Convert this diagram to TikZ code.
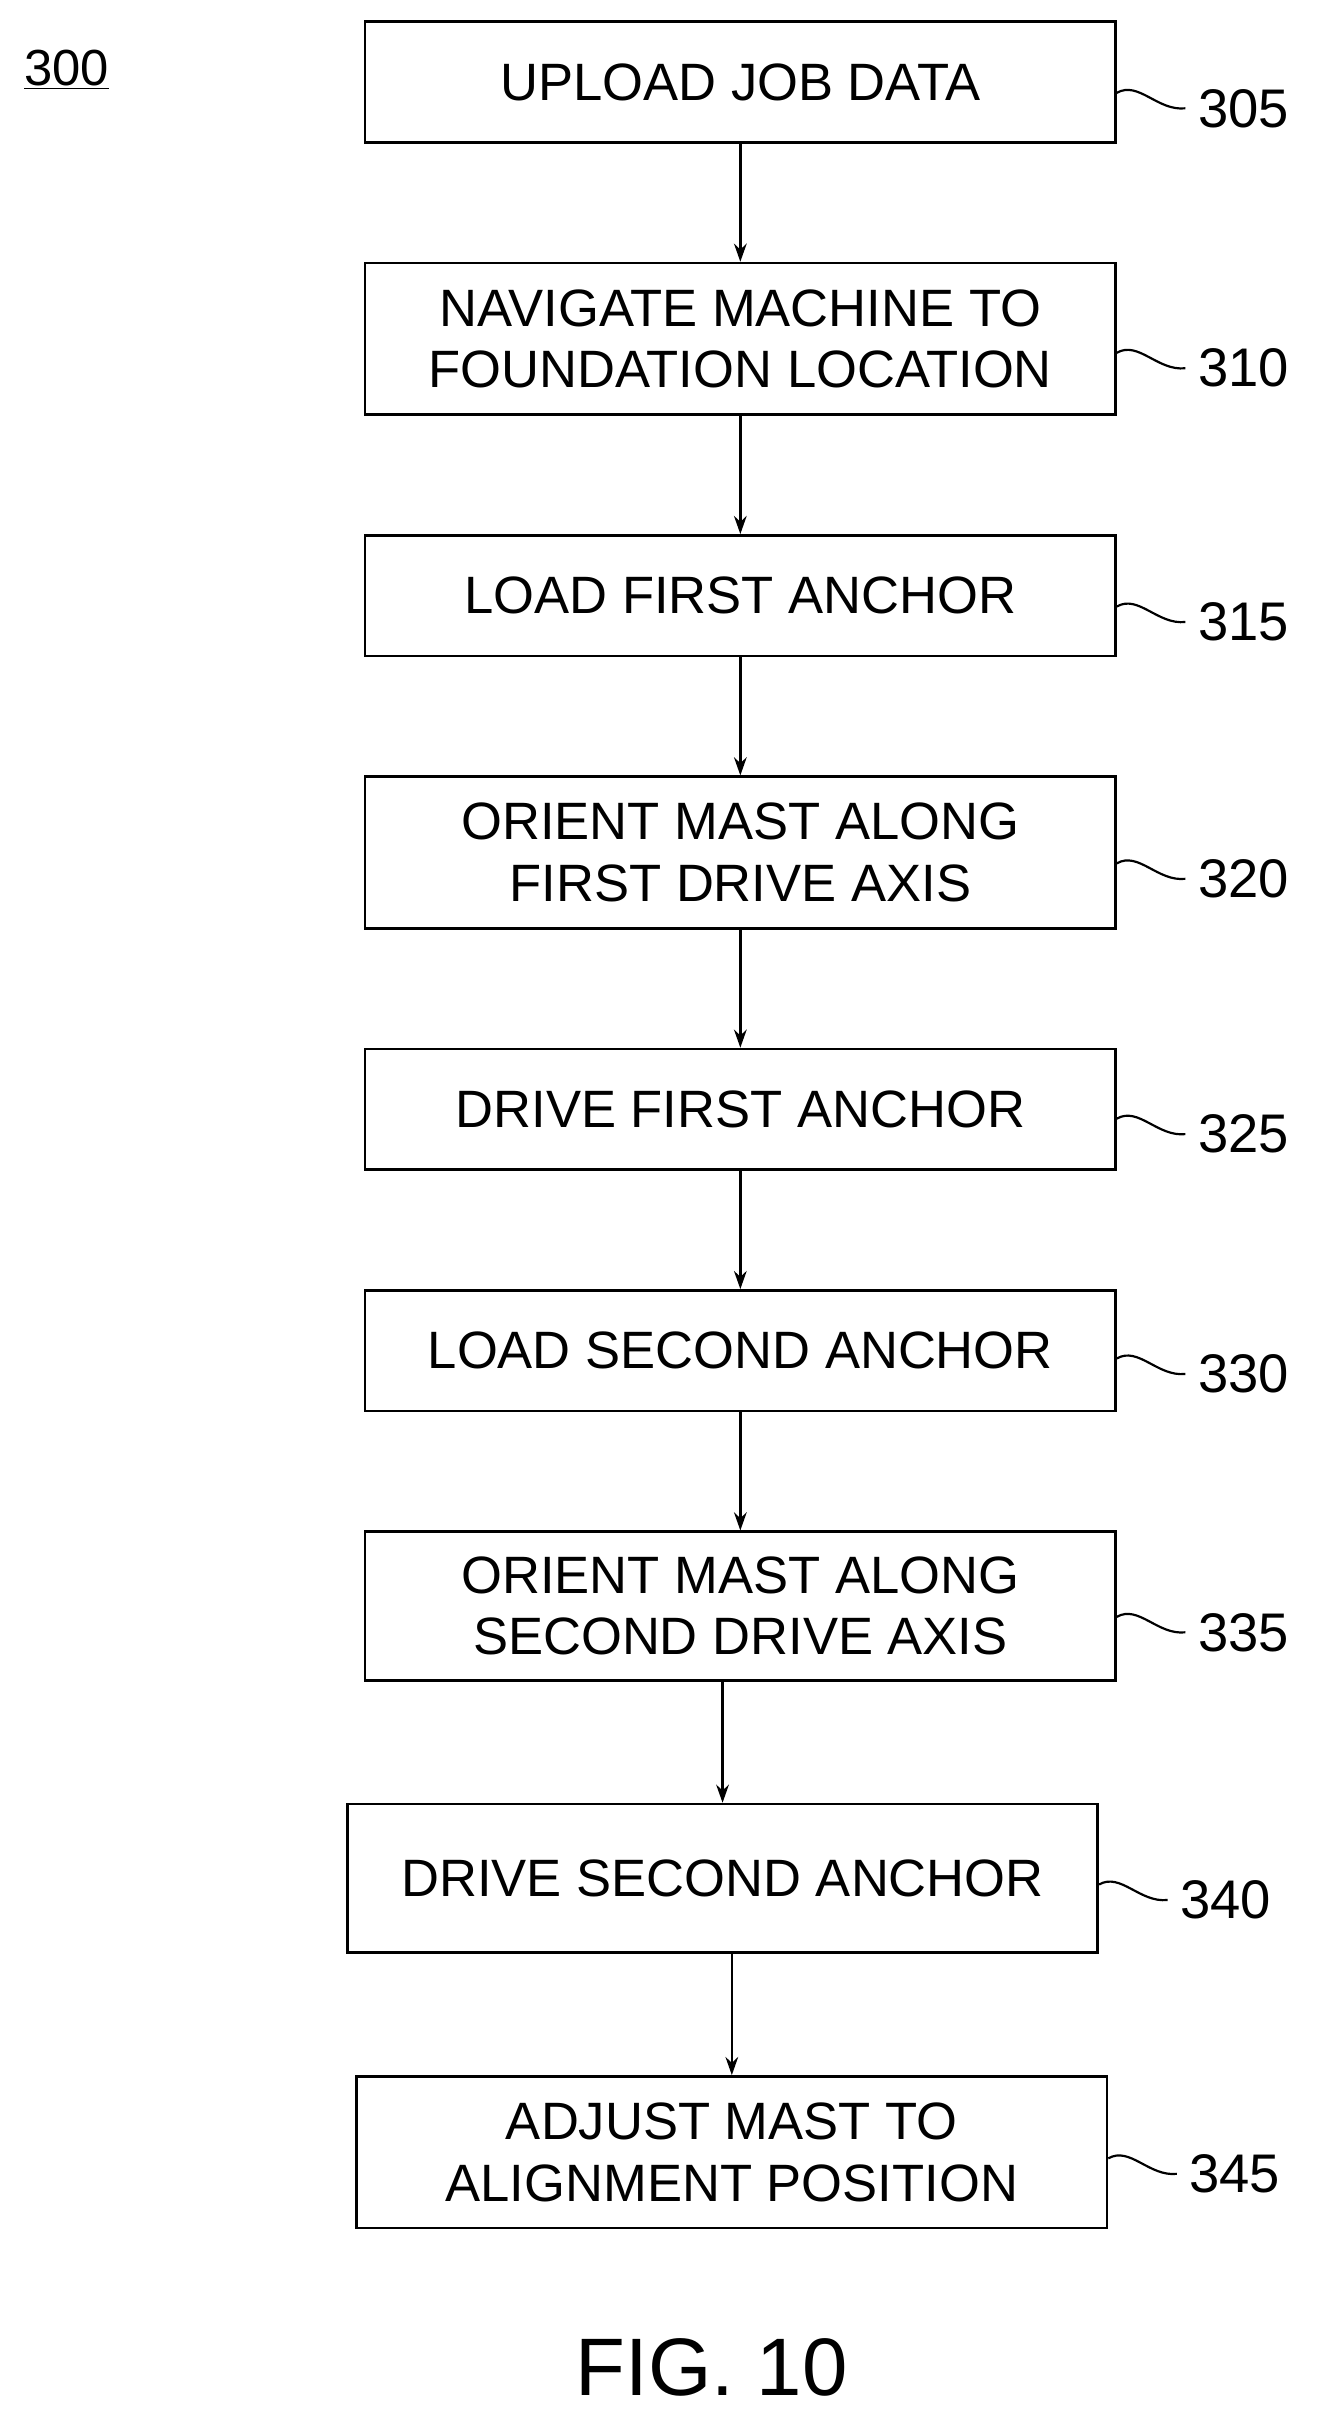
\documentclass[tikz,border=0pt]{standalone}
\usepackage{fontspec}
\setmainfont{Liberation Sans}
\usetikzlibrary{arrows.meta, positioning, calc}
\begin{document}
\begin{tikzpicture}[x=0.03cm, y=-0.03cm, >={Stealth[length=10pt,width=7pt]},
  Step/.style={draw, line width=1.4pt, minimum width=14.55cm, align=center, font=\fontsize{29}{34}\selectfont, inner sep=0pt},
  Ref/.style={font=\fontsize{30}{34}\selectfont, anchor=west},
  Lead/.style={line width=1.2pt}]
\useasboundingbox (0,0) rectangle (854,1568);
% steps
\node[Step, minimum height=2.34cm] (s305) at (478.5,53) {UPLOAD JOB DATA};
\node[Step, minimum height=2.94cm] (s310) at (478.5,219) {NAVIGATE MACHINE TO\\FOUNDATION LOCATION};
\node[Step, minimum height=2.34cm] (s315) at (478.5,385) {LOAD FIRST ANCHOR};
\node[Step, minimum height=2.94cm] (s320) at (478.5,551) {ORIENT MAST ALONG\\FIRST DRIVE AXIS};
\node[Step, minimum height=2.34cm] (s325) at (478.5,717) {DRIVE FIRST ANCHOR};
\node[Step, minimum height=2.34cm] (s330) at (478.5,873) {LOAD SECOND ANCHOR};
\node[Step, minimum height=2.88cm] (s335) at (478.5,1038) {ORIENT MAST ALONG\\SECOND DRIVE AXIS};
\node[Step, minimum height=2.88cm] (s340) at (467,1214) {DRIVE SECOND ANCHOR};
\node[Step, minimum height=2.94cm] (s345) at (473,1391) {ADJUST MAST TO\\ALIGNMENT POSITION};
% arrows
\draw[->, line width=1.3pt] (s305) -- (s310);
\draw[->, line width=1.3pt] (s310) -- (s315);
\draw[->, line width=1.3pt] (s315) -- (s320);
\draw[->, line width=1.3pt] (s320) -- (s325);
\draw[->, line width=1.3pt] (s325) -- (s330);
\draw[->, line width=1.3pt] (s330) -- (s335);
\draw[->, line width=1.3pt] (s335.south -| s340) -- (s340);
\draw[->, line width=1.3pt] (s340.south -| s345) -- (s345);
% reference numerals
\foreach \n/\y in {305/70, 310/238, 315/402, 320/568, 325/733, 330/888, 335/1055, 340/1228, 345/1405} {
  \node[Ref] (r\n) at (s\n.east |- 0,\y) [xshift=1.45cm] {\n};
  \draw[Lead] ($(s\n.east |- r\n)+(0,-10)$) .. controls +(14,-8) and +(-18,2) .. ($(r\n.west)+(-4,0)$);
}
\node[font=\fontsize{28}{32}\selectfont] (fig300) at (43,45) {\underline{300}};
\node[font=\fontsize{45}{52}\selectfont] (cap) at (460,1530) {FIG. 10};
\end{tikzpicture}
\end{document}
